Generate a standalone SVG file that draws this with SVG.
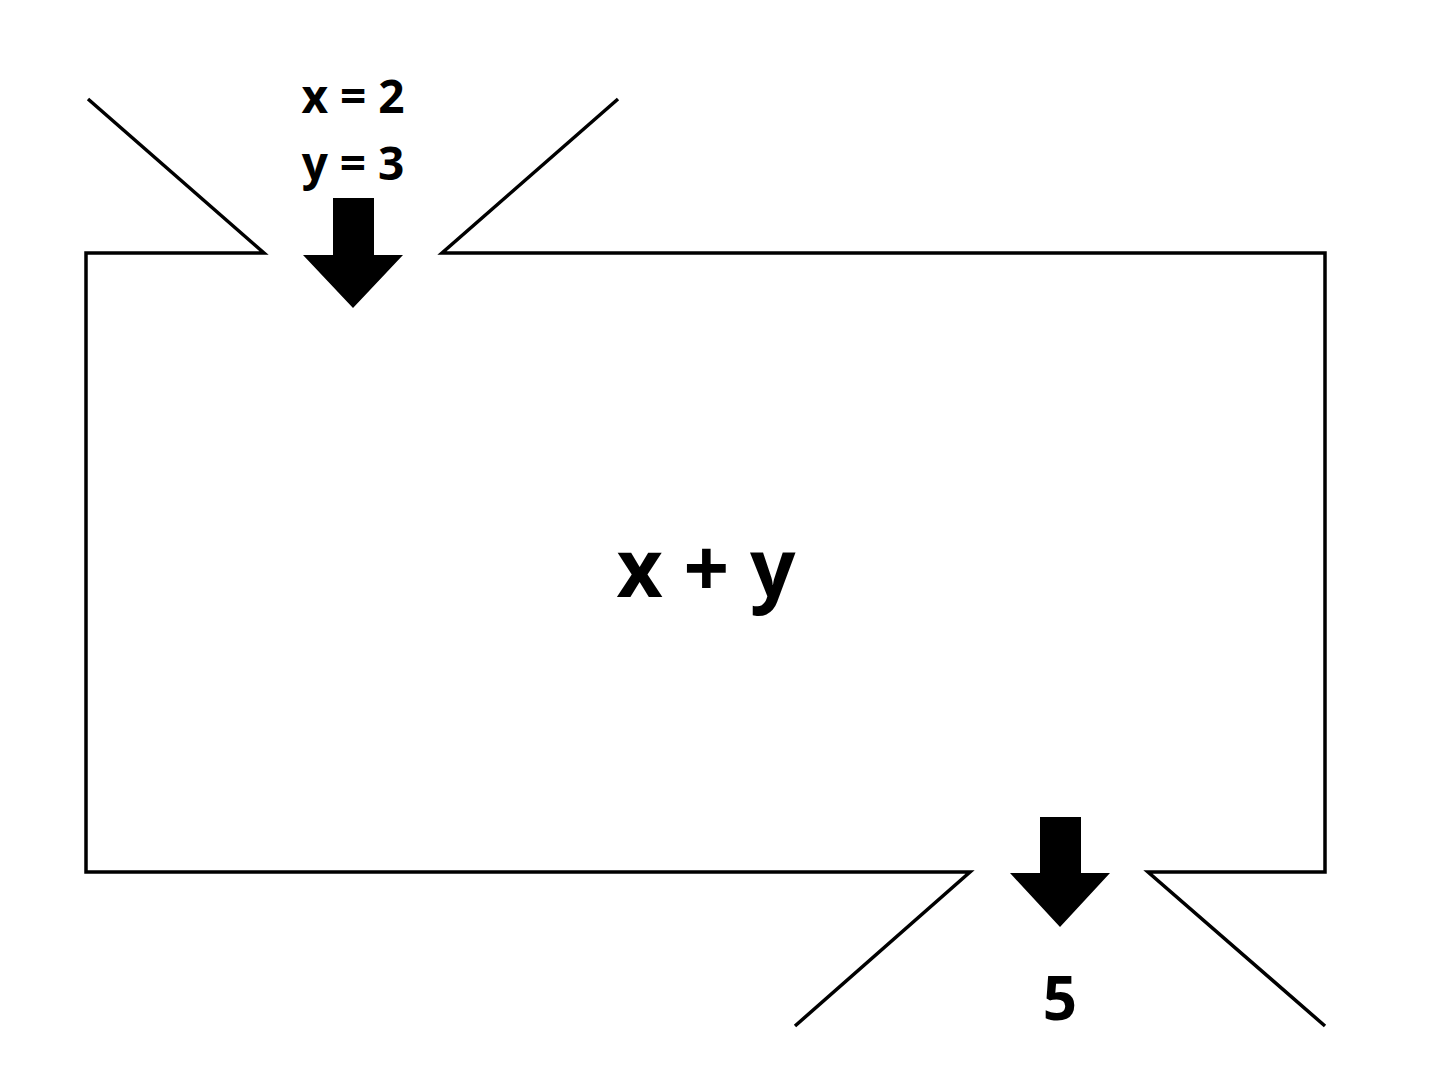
<svg xmlns="http://www.w3.org/2000/svg" width="1432" height="1076" viewBox="0 0 1432 1076">
<style>
.ln{fill:none;stroke:#000;stroke-width:3.5;stroke-linejoin:miter;stroke-linecap:butt}
.t{font-family:"Open Sans","Liberation Sans",sans-serif;font-weight:bold;fill:#000;text-anchor:middle}
</style>
<rect width="1432" height="1076" fill="#fff"/>
<g id="box">
<path class="ln" d="M88,99 L264,253 L86,253 L86,872 L970,872 L795,1026"/>
<path class="ln" d="M618,99 L442,253 L1325,253 L1325,872 L1148,872 L1325,1026"/>
<text class="t" x="706" y="597" font-size="80">x + y</text>
</g>
<g id="input">
<text class="t" x="353" y="113" font-size="46">x = 2</text>
<text class="t" x="353" y="180" font-size="46">y = 3</text>
</g>
<g id="output">
<text class="t" x="1060" y="1020" font-size="60">5</text>
</g>
<g id="connectors">
<path d="M333,198 H374 V255 H403 L353,308 L303,255 H333 Z" fill="#000"/>
<path d="M1040,817 H1081 V873 H1110 L1060,927 L1010,873 H1040 Z" fill="#000"/>
</g>
</svg>
